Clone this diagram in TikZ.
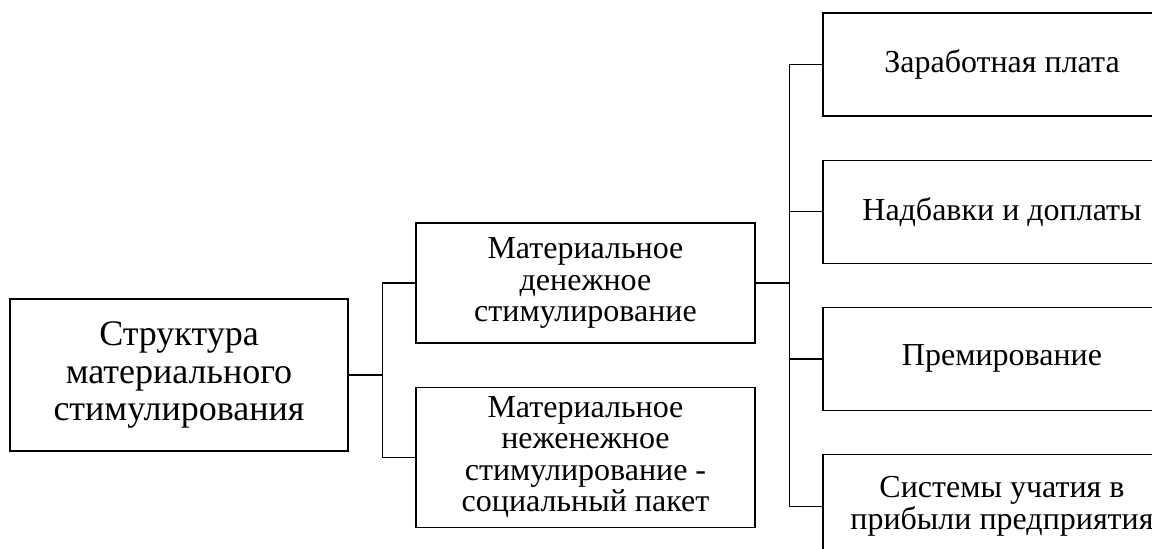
\documentclass[tikz,border=0pt]{standalone}
\usepackage{fontspec}
\setmainfont{Liberation Serif}
\usetikzlibrary{positioning}
\begin{document}
\begin{tikzpicture}[x=0.5pt,y=-0.5pt,
 every node/.style={align=center},
 blk/.style={rectangle,draw,line width=0.6pt,inner sep=2pt},
 rootbox/.style={blk,minimum width=169pt,minimum height=76pt,font=\fontsize{18}{18.7}\selectfont},
 midbox/.style={blk,minimum width=169.5pt,minimum height=60pt,font=\fontsize{16}{15.6}\selectfont},
 subbox/.style={blk,minimum width=179pt,minimum height=51.5pt,font=\fontsize{16}{15.8}\selectfont},
 link/.style={line width=0.6pt}]
\useasboundingbox (0,0) rectangle (1152,548);
\clip (0,0) rectangle (1152,548);
\node[rootbox] (root) at (179,375) {Структура\\материального\\стимулирования};
\node[midbox] (money) at (585.5,283) {Материальное\\денежное\\стимулирование};
\node[midbox,minimum height=70pt,below=21.5pt of money] (social) {Материальное\\неженежное\\стимулирование -\\социальный пакет};
\node[subbox] (salary) at (1002,64.5) {Заработная плата};
\node[subbox,below=21.5pt of salary] (bonus) {Надбавки и доплаты};
\node[subbox,below=21.5pt of bonus] (prem) {Премирование};
\node[subbox,below=21.5pt of prem] (profit) {Системы учатия в\\прибыли предприятия};
\draw[link] (root.east) -- ++(17pt,0) |- (money.west);
\draw[link] (root.east) -- ++(17pt,0) |- (social.west);
\draw[link] (money.east) -- ++(17pt,0) |- (salary.west);
\draw[link] (money.east) -- ++(17pt,0) |- (bonus.west);
\draw[link] (money.east) -- ++(17pt,0) |- (prem.west);
\draw[link] (money.east) -- ++(17pt,0) |- (profit.west);
\end{tikzpicture}
\end{document}
